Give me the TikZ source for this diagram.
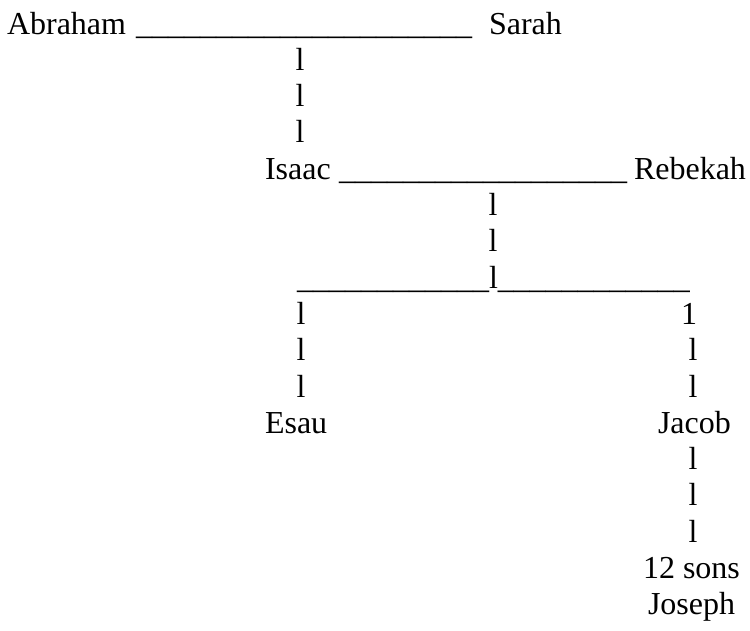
\documentclass[tikz,border=0pt]{standalone}
\usepackage{fontspec}
\setmainfont{Liberation Serif}
\newcount\uscnt
\newcommand\usn[1]{\uscnt=0 \loop\ifnum\uscnt<#1 \_\advance\uscnt by 1 \repeat}
\tikzset{
  txt/.style={inner sep=0pt, outer sep=0pt, anchor=base west, font=\fontsize{32}{38}\selectfont},
  bar/.style={txt, anchor=base}
}
\begin{document}
\begin{tikzpicture}[x=1pt,y=-1pt]
\fill[white] (0,0) rectangle (750,630);
\useasboundingbox (0,0) rectangle (750,630);
\def\rs{36.3}
% row 0
\node[txt] (abraham) at (7,34) {Abraham};
\node[txt] (line1) at (136,34) {\usn{21}};
\node[txt] (sarah) at (489,34) {Sarah};
\foreach \k in {1,2,3} \node[bar] (a\k) at (300,{34+\k*\rs}) {l};
% row 4
\node[txt] (isaac) at (265,{34+4*\rs}) {Isaac};
\node[txt] (line2) at (339,{34+4*\rs}) {\usn{18}};
\node[txt] (rebekah) at (634,{34+4*\rs}) {Rebekah};
\foreach \k in {5,6} \node[bar] (b\k) at (493,{34+\k*\rs}) {l};
% row 7
\node[txt] (split) at (297,{34+7*\rs}) {\usn{12}l\usn{12}};
% rows 8-10
\foreach \k in {8,9,10} \node[bar] (c\k) at (301,{34+\k*\rs}) {l};
\node[bar] (d8) at (689,{34+8*\rs}) {1};
\foreach \k in {9,10} \node[bar] (d\k) at (693,{34+\k*\rs}) {l};
% row 11
\node[txt] (esau) at (265,{34+11*\rs}) {Esau};
\node[txt] (jacob) at (658,{34+11*\rs}) {Jacob};
\foreach \k in {12,13,14} \node[bar] (e\k) at (693,{34+\k*\rs}) {l};
\node[txt] (sons) at (643,{34+15*\rs}) {12 sons};
\node[txt] (joseph) at (648,{34+16*\rs}) {Joseph};
\end{tikzpicture}
\end{document}
